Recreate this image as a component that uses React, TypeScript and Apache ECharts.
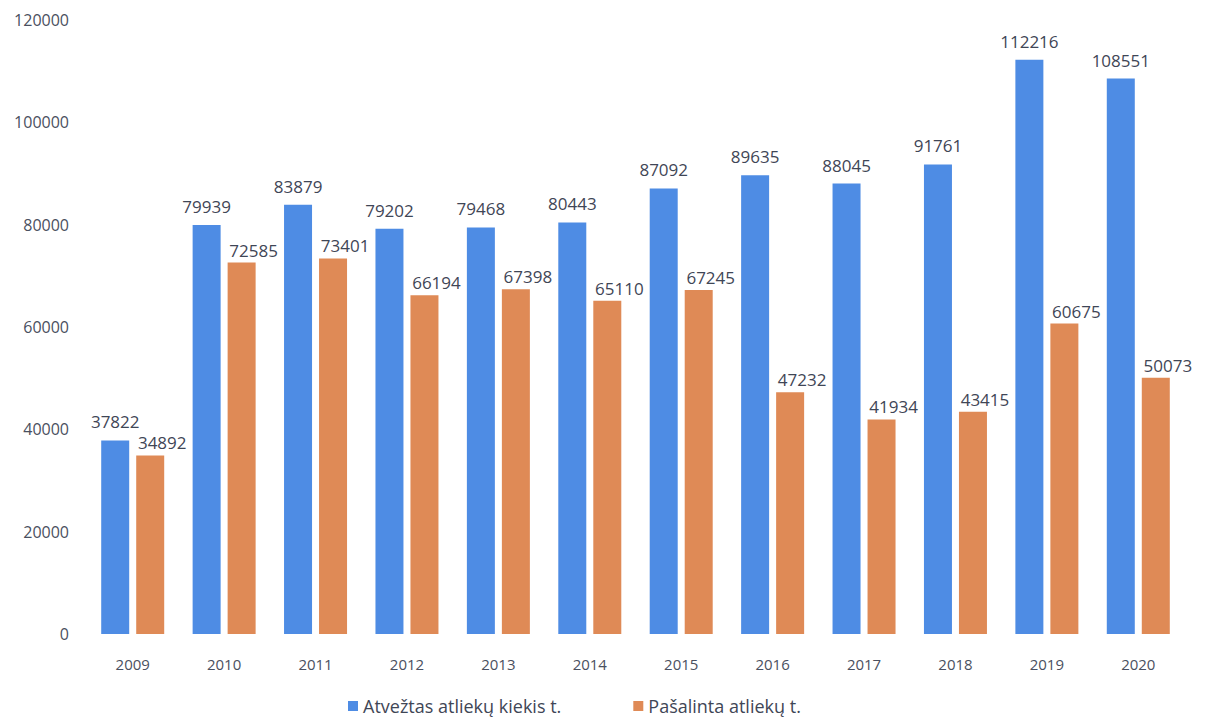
import React, { useEffect, useRef } from "react";
import * as echarts from "echarts";

const years = ["2009", "2010", "2011", "2012", "2013", "2014", "2015", "2016", "2017", "2018", "2019", "2020"];
const atveztas = [37822, 79939, 83879, 79202, 79468, 80443, 87092, 89635, 88045, 91761, 112216, 108551];
const pasalinta = [34892, 72585, 73401, 66194, 67398, 65110, 67245, 47232, 41934, 43415, 60675, 50073];
const seriesNames = ["Atvežtas atliekų kiekis t.", "Pašalinta atliekų t."];

export default function App() {
  const ref = useRef<HTMLDivElement>(null);
  useEffect(() => {
    if (!ref.current) return;
    const chart = echarts.init(ref.current, null, { renderer: "svg" });
    const font = "'Open Sans', 'Noto Sans', sans-serif";
    chart.setOption({
      animation: false,
      backgroundColor: "#ffffff",
      textStyle: { fontFamily: font },
      grid: { left: 87, right: 21, top: 20, bottom: 88 },
      legend: {
        bottom: 2,
        left: 343,
        itemWidth: 10,
        itemHeight: 10,
        itemGap: 72,
        icon: "rect",
        textStyle: { fontSize: 18, color: "#3f4656", fontFamily: font },
        data: seriesNames,
      },
      xAxis: {
        type: "category",
        data: years,
        axisLine: { show: false },
        axisTick: { show: false },
        axisLabel: { fontSize: 15, color: "#4a5060", margin: 22 },
      },
      yAxis: {
        type: "value",
        min: 0,
        max: 120000,
        interval: 20000,
        splitLine: { show: false },
        axisLine: { show: false },
        axisTick: { show: false },
        axisLabel: { fontSize: 16, color: "#4a5060", margin: 18, formatter: (v: number) => String(v) },
      },
      series: [
        {
          name: seriesNames[0],
          type: "bar",
          data: atveztas,
          barWidth: 28,
          barGap: "25%",
          itemStyle: { color: "#4e8ce4" },
          label: { show: true, position: "top", distance: 10, fontSize: 17, color: "#3f4656" },
        },
        {
          name: seriesNames[1],
          type: "bar",
          data: pasalinta,
          barWidth: 28,
          itemStyle: { color: "#df8a56" },
          label: { show: true, position: "top", distance: 4, offset: [12, 0], fontSize: 17, color: "#3f4656" },
        },
      ],
    });
    return () => chart.dispose();
  }, []);
  return (
    <div
      ref={ref}
      style={{ position: "fixed", left: 0, top: 0, width: 1205, height: 722 }}
    />
  );
}
